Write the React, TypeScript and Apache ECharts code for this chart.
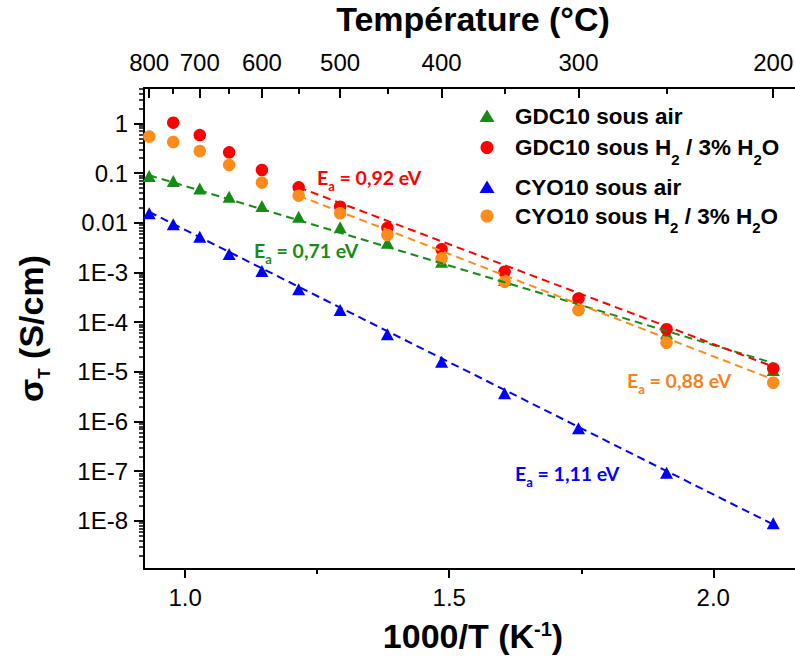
import React, { useEffect, useRef } from 'react';
import * as echarts from 'echarts';

// ---------------- data ----------------
const temperaturesC = [800, 750, 700, 650, 600, 550, 500, 450, 400, 350, 300, 250, 200];
const gdcAir = [0.087, 0.069, 0.049, 0.0334, 0.0217, 0.0132, 0.0081, 0.00396, 0.00164, 7.0e-4, 2.2e-4, 5.95e-5, 1.09e-5];
const gdcH2 = [null, 1.03, 0.58, 0.261, 0.115, 0.0515, 0.021, 0.0079, 0.00292, 1.03e-3, 3.0e-4, 7.2e-5, 1.17e-5];
const cyoAir = [0.0155, 0.0093, 0.0052, 0.00234, 1.07e-3, 4.57e-4, 1.75e-4, 5.7e-5, 1.6e-5, 3.7e-6, 7.3e-7, 9.3e-8, 8.95e-9];
const cyoH2 = [0.54, 0.42, 0.277, 0.145, 0.064, 0.035, 0.0155, 0.00566, 0.00192, 6.5e-4, 1.75e-4, 3.85e-5, 6.04e-6];

// Arrhenius fit lines (end points)
const fitTempsAir = [800, 200];
const fitTempsH2 = [550, 200];
const gdcAirFit = [0.09, 1.5e-5];
const gdcH2Fit = [0.0515, 1.27e-5];
const cyoAirFit = [0.0165, 8.5e-9];
const cyoH2Fit = [0.035, 7.0e-6];

// ticks
const bottomMajorTicks = [1.0, 1.5, 2.0];
const bottomMinorTicks = [1.25, 1.75];
const topMajorTempsC = [800, 700, 600, 500, 400, 300, 200];
const topMinorTempsC = [750, 650, 550, 450, 350, 250];
const yMajorTicks = [1, 0.1, 0.01, 1e-3, 1e-4, 1e-5, 1e-6, 1e-7, 1e-8];

const X_MIN = 0.922;
const X_MAX = 2.168;
const Y_MIN = 1.08e-9;
const Y_MAX = 5.13;

const GREEN = '#168c16';
const RED = '#ff0000';
const BLUE = '#0000ff';
const ORANGE = '#ff8c1a';
const ANNOT_ORANGE = '#f5821f';

const FONT = "'Liberation Sans', Arial, Helvetica, sans-serif";
const ANNOT_FONT = "Lato, 'Liberation Sans', sans-serif";

const toX = (c: number) => 1000 / (c + 273.15);

function points(vals: (number | null)[]) {
  const out: number[][] = [];
  temperaturesC.forEach((t, i) => {
    const v = vals[i];
    if (v != null) out.push([toX(t), v]);
  });
  return out;
}
function fit(temps: number[], vals: number[]) {
  return temps.map((t, i) => [toX(t), vals[i]]);
}

function yMinor(): number[] {
  const res: number[] = [];
  for (let e = -9; e <= 0; e++) {
    for (let m = 2; m <= 9; m++) {
      const v = m * Math.pow(10, e);
      if (v >= Y_MIN && v <= Y_MAX) res.push(v);
    }
  }
  return res;
}

function yLabel(v: number) {
  const e = Math.round(Math.log10(v));
  if (e >= -2) return String(parseFloat(v.toPrecision(1)));
  return '1E' + e;
}

const legendItems = [
  { text: 'GDC10 sous air', color: GREEN, symbol: 'triangle', y: 116 },
  { text: 'GDC10 sous H{s|2} / 3% H{s|2}O', color: RED, symbol: 'circle', y: 147.5 },
  { text: 'CYO10 sous air', color: BLUE, symbol: 'triangle', y: 187 },
  { text: 'CYO10 sous H{s|2} / 3% H{s|2}O', color: ORANGE, symbol: 'circle', y: 216 },
];

const annotations = [
  { value: '0,92', color: RED, x: 317, y: 177 },
  { value: '0,71', color: GREEN, x: 254, y: 250 },
  { value: '0,88', color: ANNOT_ORANGE, x: 627, y: 380 },
  { value: '1,11', color: BLUE, x: 515, y: 473 },
];

function buildOption(): any {
  const axisLine = { show: true, onZero: false, lineStyle: { color: '#000', width: 2 } };
  const labelStyle = { color: '#000', fontSize: 24, fontFamily: FONT };
  const titleStyle = { color: '#000', fontSize: 34, fontWeight: 'bold', fontFamily: FONT };

  const graphics: any[] = [];
  legendItems.forEach((it) => {
    if (it.symbol === 'circle') {
      graphics.push({ type: 'circle', shape: { cx: 487, cy: it.y, r: 6.5 }, style: { fill: it.color }, z: 10 });
    } else {
      graphics.push({
        type: 'polygon',
        shape: { points: [[487, it.y - 6.5], [479.5, it.y + 6], [494.5, it.y + 6]] },
        style: { fill: it.color },
        z: 10,
      });
    }
    graphics.push({
      type: 'text',
      x: 515,
      y: it.y,
      z: 10,
      style: {
        text: it.text,
        fill: '#000',
        fontSize: 22.5,
        fontWeight: 'bold',
        fontFamily: FONT,
        lineHeight: 30,
        align: 'left',
        verticalAlign: 'middle',
        rich: {
          s: { fontSize: 15, fontWeight: 'bold', fontFamily: FONT, height: 7, verticalAlign: 'bottom', fill: '#000' },
        },
      },
    });
  });
  annotations.forEach((a) => {
    graphics.push({
      type: 'text',
      x: a.x,
      y: a.y,
      z: 10,
      style: {
        text: 'E{s|a} = ' + a.value + ' eV',
        fill: a.color,
        fontSize: 19.5,
        fontWeight: 'bold',
        fontFamily: ANNOT_FONT,
        lineHeight: 24,
        align: 'left',
        verticalAlign: 'middle',
        rich: {
          s: { fontSize: 13, fontWeight: 'bold', fontFamily: ANNOT_FONT, height: 6, verticalAlign: 'bottom', fill: a.color },
        },
      },
    });
  });

  const dashed = (color: string) => ({ color, width: 2, type: [8, 5] });

  return {
    animation: false,
    backgroundColor: '#fff',
    grid: { left: 144, top: 88, width: 658, height: 481, outerBoundsMode: 'none', containLabel: false },
    xAxis: [
      {
        type: 'value',
        position: 'bottom',
        min: X_MIN,
        max: X_MAX,
        axisLine,
        splitLine: { show: false },
        axisTick: { show: true, customValues: bottomMajorTicks, length: 9, lineStyle: { color: '#000', width: 2 } },
        axisLabel: { customValues: bottomMajorTicks, formatter: (v: number) => v.toFixed(1), margin: 16, ...labelStyle },
        name: '1000/T (K{sup|-1})',
        nameLocation: 'middle',
        nameGap: 49,
        nameMoveOverlap: false,
        nameTextStyle: {
          ...titleStyle,
          lineHeight: 36,
          rich: { sup: { fontSize: 20, fontWeight: 'bold', fontFamily: FONT, color: '#000', height: 22, verticalAlign: 'top' } },
        },
      },
      {
        type: 'value',
        position: 'bottom',
        min: X_MIN,
        max: X_MAX,
        axisLine: { show: false },
        splitLine: { show: false },
        axisTick: { show: true, customValues: bottomMinorTicks, length: 5, lineStyle: { color: '#000', width: 2 } },
        axisLabel: { show: false },
      },
      {
        type: 'value',
        position: 'top',
        min: X_MIN,
        max: X_MAX,
        axisLine,
        splitLine: { show: false },
        axisTick: {
          show: true,
          inside: true,
          customValues: topMajorTempsC.map(toX),
          length: 10,
          lineStyle: { color: '#000', width: 2 },
        },
        axisLabel: {
          customValues: topMajorTempsC.map(toX),
          formatter: (v: number) => String(Math.round(1000 / v - 273.15)),
          margin: 14,
          ...labelStyle,
        },
        name: 'Température (°C)',
        nameLocation: 'middle',
        nameGap: 53,
        nameMoveOverlap: false,
        nameTextStyle: { ...titleStyle, lineHeight: 32 },
      },
      {
        type: 'value',
        position: 'top',
        min: X_MIN,
        max: X_MAX,
        axisLine: { show: false },
        splitLine: { show: false },
        axisTick: {
          show: true,
          inside: true,
          customValues: topMinorTempsC.map(toX),
          length: 6,
          lineStyle: { color: '#000', width: 2 },
        },
        axisLabel: { show: false },
      },
    ],
    yAxis: [
      {
        type: 'log',
        logBase: 10,
        position: 'left',
        min: Y_MIN,
        max: Y_MAX,
        axisLine,
        splitLine: { show: false },
        minorTick: { show: false },
        axisTick: { show: true, customValues: yMajorTicks, length: 10, lineStyle: { color: '#000', width: 2 } },
        axisLabel: { customValues: yMajorTicks, formatter: yLabel, margin: 16, ...labelStyle },
        name: 'σ{s|T} (S/cm)',
        nameLocation: 'middle',
        nameRotate: 90,
        nameGap: 96,
        nameMoveOverlap: false,
        nameTextStyle: {
          ...titleStyle,
          lineHeight: 34,
          rich: { s: { fontSize: 17, fontWeight: 'bold', fontFamily: FONT, color: '#000', height: 8, verticalAlign: 'bottom' } },
        },
      },
      {
        type: 'log',
        logBase: 10,
        position: 'left',
        min: Y_MIN,
        max: Y_MAX,
        axisLine: { show: false },
        splitLine: { show: false },
        axisTick: { show: true, customValues: yMinor(), length: 5, lineStyle: { color: '#000', width: 1.5 } },
        axisLabel: { show: false },
      },
    ],
    series: [
      {
        name: 'GDC10 sous air',
        type: 'scatter',
        symbol: 'triangle',
        symbolSize: [13, 12],
        itemStyle: { color: GREEN, opacity: 1 },
        data: points(gdcAir),
        z: 2,
      },
      {
        name: 'CYO10 sous air',
        type: 'scatter',
        symbol: 'triangle',
        symbolSize: [13, 12],
        itemStyle: { color: BLUE, opacity: 1 },
        data: points(cyoAir),
        z: 2,
      },
      {
        name: 'GDC10 sous H2 / 3% H2O',
        type: 'scatter',
        symbol: 'circle',
        symbolSize: 12.5,
        itemStyle: { color: RED, opacity: 1 },
        data: points(gdcH2),
        z: 2,
      },
      {
        name: 'CYO10 sous H2 / 3% H2O',
        type: 'scatter',
        symbol: 'circle',
        symbolSize: 12.5,
        itemStyle: { color: ORANGE, opacity: 1 },
        data: points(cyoH2),
        z: 2,
      },
      { name: 'GDC10 air fit', type: 'line', symbol: 'none', data: fit(fitTempsAir, gdcAirFit), lineStyle: dashed(GREEN), z: 3 },
      { name: 'GDC10 H2 fit', type: 'line', symbol: 'none', data: fit(fitTempsH2, gdcH2Fit), lineStyle: dashed(RED), z: 3 },
      { name: 'CYO10 air fit', type: 'line', symbol: 'none', data: fit(fitTempsAir, cyoAirFit), lineStyle: dashed(BLUE), z: 3 },
      { name: 'CYO10 H2 fit', type: 'line', symbol: 'none', data: fit(fitTempsH2, cyoH2Fit), lineStyle: dashed(ORANGE), z: 3 },
    ],
    graphic: graphics,
  };
}

export default function App() {
  const ref = useRef<HTMLDivElement>(null);
  useEffect(() => {
    if (!ref.current) return;
    const chart = echarts.init(ref.current, null, { renderer: 'svg' });
    chart.setOption(buildOption());
    return () => {
      chart.dispose();
    };
  }, []);
  return (
    <div
      ref={ref}
      style={{ position: 'fixed', left: 0, top: 0, width: 795, height: 659, background: '#fff' }}
    />
  );
}
